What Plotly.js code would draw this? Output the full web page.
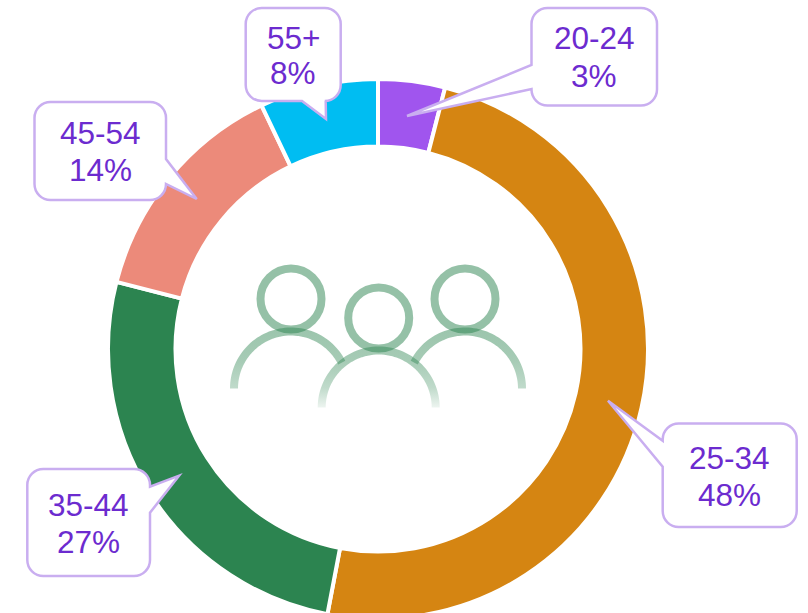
<!DOCTYPE html>
<html>
<head>
<meta charset="utf-8">
<script src="https://cdn.plot.ly/plotly-3.0.1.min.js"></script>
<style>html,body{margin:0;padding:0;background:#fff;overflow:hidden;width:808px;height:613px}#chart{width:808px;height:700px}</style>
</head>
<body>
<div id="chart"></div>
<script>
// Data
var categories = ['20-24', '25-34', '35-44', '45-54', '55+'];
var sliceValues = [4.0, 49.0, 26.0, 13.9, 7.1];
var labelPercents = ['3%', '48%', '27%', '14%', '8%'];
var sliceColors = ['#a055ee', '#d58512', '#2c8450', '#ec8a7a', '#00bdf2'];

// Callout geometry (pixels)
var boxLeft   = [531.5, 662.7, 27.3, 34.5, 245.7];
var boxTop    = [8, 423.5, 469, 102, 8];
var boxRight  = [657, 796.7, 150, 166, 340.7];
var boxBottom = [105.5, 527, 576, 200, 101];
var tailSide  = ['left', 'left', 'right', 'right', 'bottom'];
var tailFrom  = [65, 440.7, 486.7, 159, 302];
var tailTo    = [89, 466.7, 512.7, 184, 325.7];
var tipX      = [407, 608, 179, 196.7, 326];
var tipY      = [116, 400.7, 475.7, 199, 119];
var nameY     = [38.3, 458, 505, 133.3, 38];
var percentY  = [76, 494.7, 541.7, 170, 73.5];

var W = 808, H = 700;
var cx = 378, cy = 349, R = 270, hole = 0.75;
function fx(x){ return x / W; }
function fy(y){ return 1 - y / H; }
function P(c, x, y){ return c + fx(x) + ',' + fy(y) + ' '; }
function corner(x0, y0, ax, ay, x1, y1){
  var m = 0.55;
  return 'C' + fx(x0 + (ax - x0) * m) + ',' + fy(y0 + (ay - y0) * m) + ' ' +
         fx(x1 + (ax - x1) * m) + ',' + fy(y1 + (ay - y1) * m) + ' ' +
         fx(x1) + ',' + fy(y1) + ' ';
}

function calloutPath(i){
  var l = boxLeft[i], t = boxTop[i], r = boxRight[i], b = boxBottom[i], k = 16;
  var d = P('M', l + k, t) + P('L', r - k, t);
  d += corner(r - k, t, r, t, r, t + k);
  if (tailSide[i] === 'right') d += P('L', r, tailFrom[i]) + P('L', tipX[i], tipY[i]) + P('L', r, tailTo[i]);
  d += P('L', r, b - k);
  d += corner(r, b - k, r, b, r - k, b);
  if (tailSide[i] === 'bottom') d += P('L', tailTo[i], b) + P('L', tipX[i], tipY[i]) + P('L', tailFrom[i], b);
  d += P('L', l + k, b);
  d += corner(l + k, b, l, b, l, b - k);
  if (tailSide[i] === 'left') d += P('L', l, tailTo[i]) + P('L', tipX[i], tipY[i]) + P('L', l, tailFrom[i]);
  d += P('L', l, t + k);
  d += corner(l, t + k, l, t, l + k, t) + 'Z';
  return d;
}

var shapes = [], annotations = [];
var textColor = '#6c2bcf', borderColor = '#c9aef0';
var font = 'Liberation Sans, Arial, sans-serif';
categories.forEach(function(c, i){
  shapes.push({type:'path', xref:'paper', yref:'paper', layer:'above', path:calloutPath(i),
    fillcolor:'#ffffff', line:{color:borderColor, width:2.5}});
  var mx = (boxLeft[i] + boxRight[i]) / 2;
  [[c, nameY[i]], [labelPercents[i], percentY[i]]].forEach(function(a){
    annotations.push({xref:'paper', yref:'paper', x:fx(mx), y:fy(a[1]), xanchor:'center', yanchor:'middle',
      text:a[0], showarrow:false, font:{family:font, size:31.5, color:textColor}});
  });
});

// People icon
var headX = [291, 378.7, 465], headY = [299, 318, 299], headR = 30.5;
var armX = [291, 378.7, 465], armY = [388.5, 407.5, 388.5], armR = 57;
var armFromDeg = [-90, -90, -63], armToDeg = [63, 90, 90];
var iconColor = '#2c8450';
headX.forEach(function(x, i){
  shapes.push({type:'circle', xref:'paper', yref:'paper', layer:'above',
    x0:fx(x - headR), x1:fx(x + headR), y0:fy(headY[i] + headR), y1:fy(headY[i] - headR),
    line:{color:'rgba(44,132,80,0.5)', width:8}, fillcolor:'rgba(0,0,0,0)'});
});
var firstArc = shapes.length;
armX.forEach(function(x, i){
  var d = '', n = 60;
  for (var s = 0; s <= n; s++) {
    var a = (armFromDeg[i] + (armToDeg[i] - armFromDeg[i]) * s / n) * Math.PI / 180;
    d += P(s ? 'L' : 'M', x + armR * Math.sin(a), armY[i] - armR * Math.cos(a));
  }
  shapes.push({type:'path', xref:'paper', yref:'paper', layer:'above', path:d,
    line:{color:iconColor, width:8}, fillcolor:'rgba(0,0,0,0)'});
});

var trace = {
  type:'pie', labels:categories, values:sliceValues, sort:false, direction:'clockwise', rotation:0,
  hole:hole, textinfo:'none', automargin:false,
  marker:{colors:sliceColors, line:{color:'#ffffff', width:4}},
  domain:{x:[(cx - R) / W, (cx + R) / W], y:[1 - (cy + R) / H, 1 - (cy - R) / H]}
};
var layout = {width:W, height:H, margin:{l:0, r:0, t:0, b:0, pad:0}, showlegend:false,
  paper_bgcolor:'#ffffff', shapes:shapes, annotations:annotations};

Plotly.newPlot('chart', [trace], layout, {displayModeBar:false, staticPlot:true}).then(function(gd){
  var svg = gd.querySelector('svg.main-svg');
  var NS = 'http://www.w3.org/2000/svg';
  var grad = document.createElementNS(NS, 'linearGradient');
  grad.setAttribute('id', 'armFade');
  grad.setAttribute('gradientUnits', 'userSpaceOnUse');
  grad.setAttribute('x1', 0); grad.setAttribute('x2', 0);
  grad.setAttribute('y1', 330); grad.setAttribute('y2', 408);
  [[0, .47], [.4, .42], [.74, .3], [1, .08]].forEach(function(s){
    var st = document.createElementNS(NS, 'stop');
    st.setAttribute('offset', s[0]);
    st.setAttribute('stop-color', iconColor);
    st.setAttribute('stop-opacity', s[1]);
    grad.appendChild(st);
  });
  var defs = svg.querySelector('defs') || svg.insertBefore(document.createElementNS(NS, 'defs'), svg.firstChild);
  defs.appendChild(grad);
  var paths = gd.querySelectorAll('.layer-above .shapelayer path');
  for (var i = firstArc; i < paths.length; i++) {
    paths[i].style.stroke = 'url(#armFade)';
    paths[i].style.strokeOpacity = 1;
  }
});
</script>
</body>
</html>
